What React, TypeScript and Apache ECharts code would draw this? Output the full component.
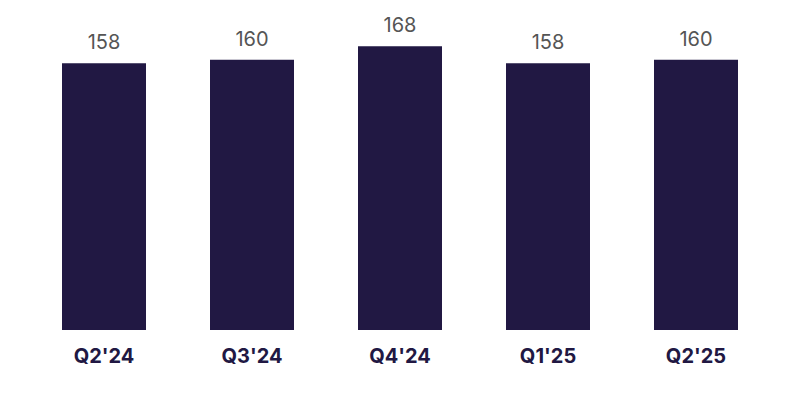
import React, { useEffect, useRef } from "react";
import * as echarts from "echarts";

const categories = ["Q2'24", "Q3'24", "Q4'24", "Q1'25", "Q2'25"];
const values = [158, 160, 168, 158, 160];

export default function App() {
  const ref = useRef<HTMLDivElement>(null);
  useEffect(() => {
    const chart = echarts.init(ref.current!, null, { renderer: "svg" });
    chart.setOption({
      animation: false,
      grid: { left: 30, right: 30, top: 26, bottom: 70 },
      xAxis: {
        type: "category",
        data: categories,
        axisLine: { show: false },
        axisTick: { show: false },
        axisLabel: {
          margin: 16,
          color: "#211843",
          fontSize: 20,
          fontWeight: "bold",
          fontFamily: "Inter, sans-serif",
        },
      },
      yAxis: {
        type: "value",
        min: 0,
        max: 180,
        show: false,
        splitLine: { show: false },
      },
      series: [
        {
          type: "bar",
          data: values,
          barWidth: 84,
          itemStyle: { color: "#211843" },
          label: {
            show: true,
            position: "top",
            distance: 11,
            color: "#555555",
            fontSize: 20,
            fontFamily: "Inter, sans-serif",
          },
        },
      ],
    });
    return () => chart.dispose();
  }, []);
  return <div ref={ref} style={{ width: 800, height: 400, position: "absolute", left: 0, top: 0 }} />;
}
